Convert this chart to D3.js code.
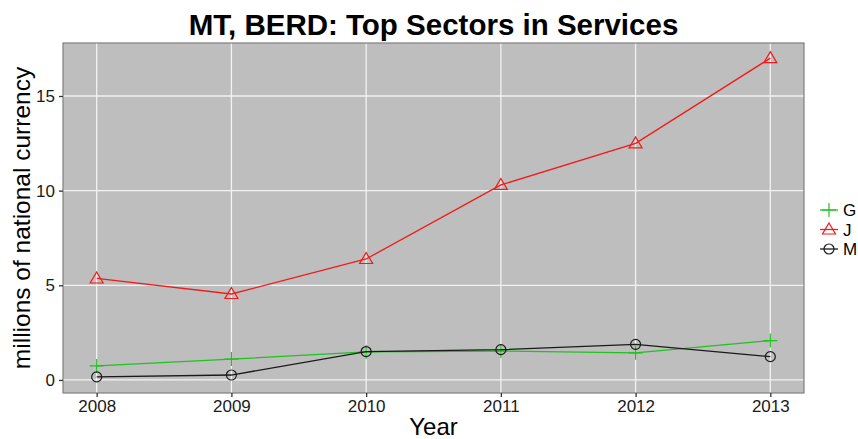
<!DOCTYPE html>
<html>
<head>
<meta charset="utf-8">
<script src="https://cdn.jsdelivr.net/npm/d3@7"></script>
<style>
  body { margin: 0; background: #fff; }
  text { font-family: "Liberation Sans", Arial, sans-serif; }
</style>
</head>
<body>
<div id="chart"></div>
<script>
// data
const years = [2008, 2009, 2010, 2011, 2012, 2013];
const sectorG = [0.74, 1.1, 1.48, 1.53, 1.43, 2.08];
const sectorJ = [5.36, 4.54, 6.39, 10.3, 12.5, 17.0];
const sectorM = [0.16, 0.26, 1.5, 1.6, 1.88, 1.23];
const yTicks = [0, 5, 10, 15];

const series = [
  { key: "G", values: sectorG, color: "#1fc21f", shape: "plus" },
  { key: "J", values: sectorJ, color: "#f21a1a", shape: "triangle" },
  { key: "M", values: sectorM, color: "#1a1a1a", shape: "circle" }
];

const width = 858, height = 439;
const panel = { left: 63, top: 43, right: 804, bottom: 393 };

const svg = d3.select("#chart").append("svg")
  .attr("width", width)
  .attr("height", height);

const x = d3.scaleLinear()
  .domain([2007.75, 2013.25])
  .range([panel.left, panel.right]);

const y = d3.scaleLinear()
  .domain([-0.69, 17.8])
  .range([panel.bottom, panel.top]);

// panel background
svg.append("rect")
  .attr("x", panel.left)
  .attr("y", panel.top)
  .attr("width", panel.right - panel.left)
  .attr("height", panel.bottom - panel.top)
  .attr("fill", "#bebebe");

// grid lines
svg.append("g").selectAll("line")
  .data(yTicks)
  .enter().append("line")
  .attr("x1", panel.left).attr("x2", panel.right)
  .attr("y1", d => y(d)).attr("y2", d => y(d))
  .attr("stroke", "#f2f2f2").attr("stroke-width", 1.3);

svg.append("g").selectAll("line")
  .data(years)
  .enter().append("line")
  .attr("y1", panel.top).attr("y2", panel.bottom)
  .attr("x1", d => x(d)).attr("x2", d => x(d))
  .attr("stroke", "#f2f2f2").attr("stroke-width", 1.3);

// panel border
svg.append("rect")
  .attr("x", panel.left)
  .attr("y", panel.top)
  .attr("width", panel.right - panel.left)
  .attr("height", panel.bottom - panel.top)
  .attr("fill", "none")
  .attr("stroke", "#7f7f7f")
  .attr("stroke-width", 1.2);

// axes
const xAxis = svg.append("g")
  .attr("transform", `translate(0,${panel.bottom})`)
  .call(d3.axisBottom(x).tickValues(years).tickFormat(d3.format("d")).tickSize(4).tickPadding(3));

const yAxis = svg.append("g")
  .attr("transform", `translate(${panel.left},0)`)
  .call(d3.axisLeft(y).tickValues(yTicks).tickSize(4).tickPadding(4));

[xAxis, yAxis].forEach(a => {
  a.select(".domain").remove();
  a.selectAll(".tick line").attr("stroke", "#333").attr("stroke-width", 1.3);
  a.selectAll(".tick text")
    .attr("fill", "#1a1a1a")
    .style("font-size", "17px")
    .style("font-family", "'Liberation Sans', Arial, sans-serif");
});

// lines and points
const line = d3.line()
  .x((d, i) => x(years[i]))
  .y(d => y(d));

function drawSymbol(g, shape, color, cx, cy) {
  if (shape === "plus") {
    g.append("path")
      .attr("d", `M${cx - 7},${cy}H${cx + 7}M${cx},${cy - 7}V${cy + 7}`)
      .attr("stroke", color).attr("stroke-width", 1.2).attr("fill", "none");
  } else if (shape === "triangle") {
    g.append("path")
      .attr("d", `M${cx},${cy - 6.5}L${cx + 6.5},${cy + 4.5}L${cx - 6.5},${cy + 4.5}Z`)
      .attr("stroke", color).attr("stroke-width", 1.2).attr("fill", "none");
  } else {
    g.append("circle")
      .attr("cx", cx).attr("cy", cy).attr("r", 5)
      .attr("stroke", color).attr("stroke-width", 1.2).attr("fill", "none");
  }
}

series.forEach(s => {
  svg.append("path")
    .datum(s.values)
    .attr("d", line)
    .attr("fill", "none")
    .attr("stroke", s.color)
    .attr("stroke-width", 1.3);
  const g = svg.append("g");
  s.values.forEach((v, i) => drawSymbol(g, s.shape, s.color, x(years[i]), y(v)));
});

// title and axis labels
svg.append("text")
  .attr("x", (panel.left + panel.right) / 2)
  .attr("y", 35)
  .attr("text-anchor", "middle")
  .style("font-size", "29.5px")
  .style("font-weight", "bold")
  .attr("fill", "#000")
  .text("MT, BERD: Top Sectors in Services");

svg.append("text")
  .attr("x", (panel.left + panel.right) / 2)
  .attr("y", 435)
  .attr("text-anchor", "middle")
  .style("font-size", "24px")
  .attr("fill", "#000")
  .text("Year");

svg.append("text")
  .attr("transform", `translate(30,${(panel.top + panel.bottom) / 2}) rotate(-90)`)
  .attr("text-anchor", "middle")
  .style("font-size", "24.5px")
  .attr("fill", "#000")
  .text("millions of national currency");

// legend
const legend = svg.append("g");
series.forEach((s, i) => {
  const ly = 210 + i * 19.5;
  legend.append("line")
    .attr("x1", 820).attr("x2", 838)
    .attr("y1", ly).attr("y2", ly)
    .attr("stroke", s.color).attr("stroke-width", 1.3);
  drawSymbol(legend, s.shape, s.color, 829, ly);
  legend.append("text")
    .attr("x", 843)
    .attr("y", ly + 6)
    .style("font-size", "17px")
    .attr("fill", "#000")
    .text(s.key);
});
</script>
</body>
</html>
